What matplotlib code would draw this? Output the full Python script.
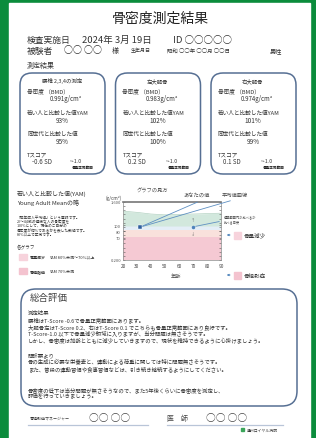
import matplotlib
matplotlib.use("Agg")
import matplotlib.pyplot as plt
from matplotlib.patches import FancyBboxPatch, Rectangle
from matplotlib.ticker import MultipleLocator

plt.rcParams['font.family'] = ['Noto Sans CJK JP', 'DejaVu Sans']

# --- values read from the sheet ---
sites = ['腰椎 2,3,4の測定', '左大腿骨', '右大腿骨']
bmd = [0.991, 0.983, 0.974]
yam = [93, 102, 101]
same_age = [95, 100, 99]
t_score = [-0.6, 0.2, 0.1]

# "how to read" chart
ages = [20, 30, 40, 50, 60, 70, 80, 90]
avg_upper = [1.38, 1.35, 1.31, 1.29, 1.30, 1.31, 1.32, 1.33]
green_low = 1.02
normal_low = 0.93
loss_low = 0.75
y_min, y_max = 0.2, 1.6
ytick_vals = [0.2, 0.74, 0.89, 1.04, 1.6]
ytick_labels = ['0.200', '70', '80', '100', '1.600']
your_age, your_bmd = 32, 0.991
ex_age, ex_bmd = 70, 1.0

summary = [
    ('測定結果', 313),
    ('腰椎はT-Score -0.6で骨量正常範囲にあります。', 320),
    ('大腿骨左はT-Score 0.2、右はT-Score 0.1 でこちらも骨量正常範囲にあり良好です。', 327),
    ('T-Score-1.0 以下で骨量減少領域に入りますが、当分問題は無さそうです。', 334),
    ('しかし、骨密度は加齢とともに減少していきますので、現状を維持できるように心掛けましょう。', 341),
    ('問診票より', 355),
    ('骨の生成に必要な栄養素と、運動による荷重に関しては特に問題無さそうです。', 362),
    ('また、普段の運動習慣や食事習慣などは、引き続き継続するようにしてください。', 369),
    ('骨密度の低下は当分問題が無さそうなので、また5年後くらいに骨密度を測定し、', 390),
    ('評価を行っていきましょう。', 397),
]

W, H = 316, 439
fig = plt.figure(figsize=(W / 100, H / 100), dpi=100)
bg = fig.add_axes([0, 0, 1, 1])
bg.set_xlim(0, W)
bg.set_ylim(H, 0)
bg.axis('off')

green = '#0b8c3c'
edge = '#566f93'
txt = '#333333'
bg.add_patch(Rectangle((0, 0), W, H, color=green, zorder=0))
bg.add_patch(Rectangle((9, 4), 301, H, color='white', zorder=1))

# header
bg.text(160, 19, '骨密度測定結果', fontsize=10, ha='center', va='center', color='#222')
bg.text(27, 40, '検査実施日', fontsize=6.3, va='center', color=txt)
bg.text(82, 40, '2024年 3月 19日', fontsize=6.8, va='center', color=txt)
bg.text(173, 40, 'ID ○○○○○', fontsize=6.8, va='center', color=txt)
bg.text(27, 51, '被験者', fontsize=6.3, va='center', color=txt)
bg.text(64, 51, '○○ ○○', fontsize=6.5, va='center', color=txt)
bg.text(112, 51, '様', fontsize=5, va='center', color=txt)
bg.text(131, 51, '生年月日', fontsize=3.6, va='center', color=txt)
bg.text(167, 51, '昭和 ○○年 ○○月 ○○日', fontsize=3.9, va='center', color=txt)
bg.text(270, 51, '男性', fontsize=4.5, va='center', color=txt)
bg.text(27, 66, '測定結果', fontsize=5, va='center', color=txt)

# three result boxes
for i, site in enumerate(sites):
    x0 = 20 + i * 95.5
    bg.add_patch(FancyBboxPatch((x0, 74), 85, 101,
                                boxstyle='round,pad=0,rounding_size=12',
                                fc='none', ec=edge, lw=1.1, zorder=2))
    cx = x0 + 42
    lx = x0 + 7
    bg.text(cx, 81, site, fontsize=3.9, ha='center', va='center', color=txt)
    bg.text(lx, 92, '骨密度 （BMD）', fontsize=4.1, va='center', color=txt)
    bg.text(x0 + 30, 99.5, f'{bmd[i]:.3f}g/cm²', fontsize=4.4, va='center', color=txt)
    bg.text(lx, 113, '若い人と比較した値YAM', fontsize=4.1, va='center', color=txt)
    bg.text(cx, 121, f'{yam[i]}%', fontsize=4.6, ha='center', va='center', color=txt)
    bg.text(lx, 134, '同世代と比較した値', fontsize=4.1, va='center', color=txt)
    bg.text(cx, 142, f'{same_age[i]}%', fontsize=4.6, ha='center', va='center', color=txt)
    bg.text(lx, 155, 'Tスコア', fontsize=4.1, va='center', color=txt)
    bg.text(lx + 5, 162, f'{t_score[i]:.1f} SD', fontsize=4.4, va='center', color=txt)
    bg.text(x0 + 50, 162, '~-1.0', fontsize=3.8, va='center', color=txt)
    bg.text(x0 + 63, 168, '骨量正常範囲', fontsize=2.6, ha='center', va='center',
            color='#222', fontweight='bold')

# left explanation column
bg.text(17, 194, '若い人と比較した値(YAM)', fontsize=4.3, va='center', color=txt)
bg.text(17, 203, 'Young Adult Meanの略', fontsize=4.3, va='center', color=txt)
expl = ['「若年成人平均値」という意味です。', '20～44歳の健康な人の骨密度を',
        '100%として、現在のご自分の', '骨密度が何%であるかを表した数値です。',
        '80%以上で正常です。']
for k, line in enumerate(expl):
    bg.text(17, 218 + k * 4.2, line, fontsize=2.7, va='center', color=txt)
bg.text(17, 248, '各グラフ', fontsize=3.3, va='center', color=txt)
bg.add_patch(Rectangle((19, 255), 8, 6, color='#f7d3dc', zorder=2))
bg.text(30, 258, '骨量減少', fontsize=2.9, va='center', color=txt, fontweight='bold')
bg.text(49, 258, 'YAM 80%未満～70%以上', fontsize=2.9, va='center', color=txt)
bg.add_patch(Rectangle((19, 269), 8, 6, color='#f4c3cf', zorder=2))
bg.text(30, 272, '骨粗鬆症', fontsize=2.9, va='center', color=txt, fontweight='bold')
bg.text(49, 272, 'YAM 70%未満', fontsize=2.9, va='center', color=txt)

# chart
ax = fig.add_axes([123 / W, 1 - 261 / H, 98 / W, 58 / H])
ax.set_xlim(ages[0], ages[-1])
ax.set_ylim(y_min, y_max)
ax.axhspan(y_min, loss_low, color='#f5c9d3', lw=0)
ax.axhspan(loss_low, normal_low, color='#f9e1dc', lw=0)
ax.axhspan(normal_low, green_low, color='#e4eef7', lw=0)
ax.fill_between(ages, green_low, avg_upper, color='#d2e8dd', lw=0)
ax.plot(ages, avg_upper, color='#b3d2c2', lw=0.5)
ax.plot(your_age, your_bmd, 's', ms=2.2, color='#2f5f9e', mec='white', mew=0.3, zorder=5)
ax.plot(ex_age, ex_bmd, 'o', ms=1.5, color='#4d83bb', zorder=5)
ax.text(ex_age, (green_low + avg_upper[5]) / 2, '↑', fontsize=3, ha='center', va='center', color='#666')
ax.text(ex_age, (loss_low + normal_low) / 2, '↓', fontsize=3, ha='center', va='center', color='#666')
ax.set_xticks(ages)
ax.set_xticklabels([str(a) for a in ages])
ax.set_yticks(ytick_vals)
ax.set_yticklabels(ytick_labels)
ax.yaxis.set_minor_locator(MultipleLocator(0.1))
ax.tick_params(axis='x', length=0, labelsize=3.4, pad=2, colors='#444')
ax.tick_params(axis='y', which='both', direction='in', left=True, right=True,
               length=1.3, width=0.4, labelsize=3.0, pad=1.5, colors='#555')
for s in ['left', 'right', 'bottom']:
    ax.spines[s].set_color('#888')
    ax.spines[s].set_linewidth(0.5)
ax.spines['top'].set_color('#777')
ax.spines['top'].set_linewidth(1.2)

line_kw = dict(arrowstyle='-', color='#5f90c2', lw=0.6)
ax.annotate('', xy=(your_age, your_bmd), xytext=(200, 202), textcoords=bg.transData,
            arrowprops=line_kw, annotation_clip=False)
ax.annotate('', xy=(your_age, your_bmd), xytext=(233, 201), textcoords=bg.transData,
            arrowprops=line_kw, annotation_clip=False)
ax.annotate('', xy=(ex_age, ex_bmd), xytext=(222, 222), textcoords=bg.transData,
            arrowprops=line_kw, annotation_clip=False)

bg.text(152, 191, 'グラフの見方', fontsize=3.8, ha='center', va='center', color='#555')
bg.text(114, 198, '(g/cm²)', fontsize=3.4, ha='center', va='center', color='#444')
bg.text(197, 195, 'あなたの値', fontsize=3.8, ha='center', va='center', color='#444')
bg.text(235, 195, '平均値曲線', fontsize=3.8, ha='center', va='center', color='#444')
bg.text(224, 217, '標準範囲内か比べるか', fontsize=2.3, va='center', color='#444')
bg.text(224, 222, '比べる目安', fontsize=2.3, va='center', color='#444')
bg.text(176, 277, '年齢', fontsize=3.8, ha='center', va='center', color='#444')
for yy, lab, col in [(236, '骨量減少', '#f7d3dc'), (276, '骨粗鬆症', '#f4c3cf')]:
    bg.annotate('', xy=(224, yy), xytext=(233, yy),
                arrowprops=dict(arrowstyle='-|>', color='#4d83bb', lw=0.5, mutation_scale=3))
    bg.add_patch(Rectangle((234, yy - 3.5), 7, 7, color=col, zorder=2))
    bg.text(244, yy, lab, fontsize=4, va='center', color=txt)

# summary box
bg.add_patch(FancyBboxPatch((21, 290), 276, 117,
                            boxstyle='round,pad=0,rounding_size=15',
                            fc='none', ec=edge, lw=1.1, zorder=2))
bg.text(30, 299, '総合評価', fontsize=6.8, va='center', color='#444')
for line, yy in summary:
    bg.text(28, yy, line, fontsize=3.9, va='center', color=txt)

# signatures
bg.text(30, 419, '骨粗鬆症マネージャー', fontsize=2.9, va='center', color=txt)
bg.text(89, 418, '○○ ○○', fontsize=7, va='center', color='#444')
bg.plot([28, 148], [426, 426], color='#b9c5d8', lw=0.9)
bg.text(167, 419, '医　師', fontsize=5, va='center', color='#444')
bg.text(206, 418, '○○ ○○', fontsize=7, va='center', color='#444')
bg.plot([167, 283], [426, 426], color='#b9c5d8', lw=0.9)
bg.add_patch(Rectangle((241, 429.5), 3, 3, color='#3aa55a', zorder=2))
bg.text(247, 431, '遠州ロイヤル病院', fontsize=2.8, va='center', color='#333')

fig.savefig('out.png', dpi=100)
